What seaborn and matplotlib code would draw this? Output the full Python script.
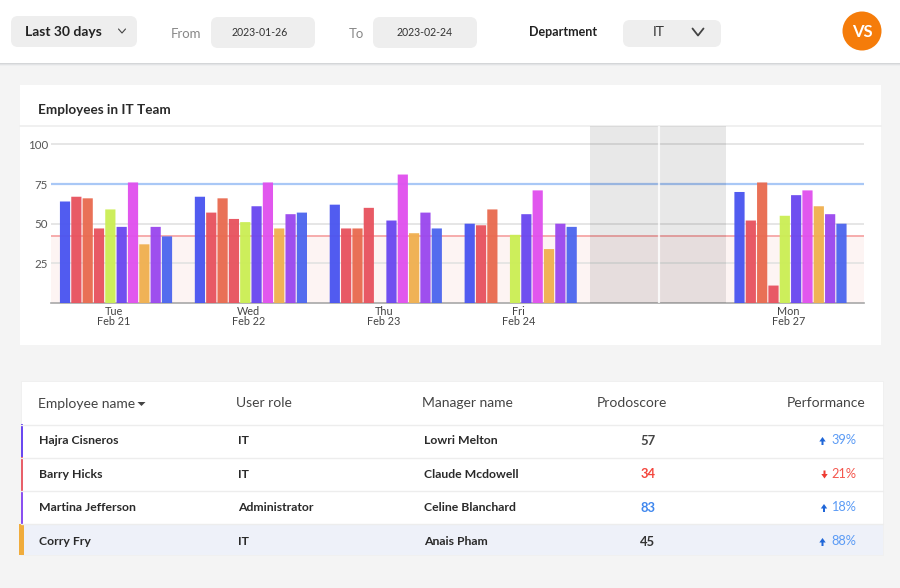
import numpy as np
import pandas as pd
import seaborn as sns
import matplotlib.pyplot as plt
from matplotlib.patches import FancyBboxPatch, Rectangle, Circle, Polygon


# ---- data ----
days = ["Tue", "Wed", "Thu", "Fri", " ", "Mon"]
tick_days = ["Tue\nFeb 21", "Wed\nFeb 22", "Thu\nFeb 23", "Fri\nFeb 24", "Mon\nFeb 27"]
tick_pos = [0, 1, 2, 3, 5]
employees = ["e1", "e2", "e3", "e4", "e5", "e6", "e7", "e8", "e9", "e10"]
bar_colors = ["#4A55F0", "#E8535F", "#E96B50", "#E8535F", "#CBEE55",
              "#6A48F0", "#E050EE", "#F0B050", "#9A48EE", "#4D66EE"]

tue = [64, 67, 66, 47, 59, 48, 76, 37, 48, 42]
wed = [67, 57, 66, 53, 51, 61, 76, 47, 56, 57]
thu = [62, 47, 47, 60, np.nan, 52, 81, 44, 57, 47]
fri = [50, 49, 59, np.nan, 43, 56, 71, 34, 50, 48]
off = [np.nan] * 10
mon = [70, 52, 76, 11, 55, 68, 71, 61, 56, 50]

y_ticks = [25, 50, 75, 100]
upper_line = 75
lower_line = 42

names = ["Hajra Cisneros", "Barry Hicks", "Martina Jefferson", "Corry Fry"]
roles = ["IT", "IT", "Administrator", "IT"]
managers = ["Lowri Melton", "Claude Mcdowell", "Celine Blanchard", "Anais Pham"]
scores = ["57", "34", "83", "45"]
perf = ["39%", "21%", "18%", "88%"]
perf_up = [True, False, True, True]

df = pd.DataFrame({
    "day": np.repeat(days, len(employees)),
    "employee": employees * len(days),
    "value": tue + wed + thu + fri + off + mon,
})

sns.set_theme(style="white")
plt.rcParams["font.family"] = ["Lato", "DejaVu Sans"]

fig = plt.figure(figsize=(9, 5.88), dpi=100, facecolor="#F4F4F4")

# ---- page furniture, in pixel coords ----
ui = fig.add_axes([0, 0, 1, 1], zorder=0)
ui.set_xlim(0, 900)
ui.set_ylim(588, 0)
ui.axis("off")


def pill(x, y, w, h, color="#EEEEEE", r=7):
    ui.add_patch(FancyBboxPatch((x + r, y + r), w - 2 * r, h - 2 * r,
                                boxstyle=f"round,pad={r}", fc=color, ec="none"))


def chevron(x, y, w, h, lw=1.1, color="#444444"):
    ui.plot([x - w, x, x + w], [y - h, y + h, y - h], color=color, lw=lw)


def label(x, y, s, size=9, color="#333333", ha="left", weight="normal", **kw):
    ui.text(x, y, s, fontsize=size, color=color, ha=ha, va="center", weight=weight, **kw)


def arrow(x, y, up, color):
    # small solid arrow next to the performance figure
    d = -1 if up else 1
    pts = [[x - 3.2, y - 0.5 * d], [x, y + 4 * d], [x + 3.2, y - 0.5 * d],
           [x + 1, y - 0.5 * d], [x + 1, y - 4 * d], [x - 1, y - 4 * d], [x - 1, y - 0.5 * d]]
    ui.add_patch(Polygon(pts, fc=color, ec="none"))


# top bar and its shadow
ui.add_patch(Rectangle((0, 0), 900, 63, fc="white", ec="none"))
for i, c in enumerate(["#D4D6D8", "#E2E3E5", "#EDEEEF"]):
    ui.add_patch(Rectangle((0, 63 + i), 900, 1, fc=c, ec="none"))

pill(11, 16, 126, 31)
label(25, 32.5, "Last 30 days", 10, "#222222", weight="bold")
chevron(122, 31, 3.5, 2, lw=0.8)
label(171, 33.5, "From", 9.5, "#888888")
pill(211, 17, 104, 31)
label(260, 32.5, "2023-01-26", 7.6, "#333333", ha="center")
label(349, 33.5, "To", 9.5, "#888888")
pill(373, 17, 104, 31)
label(425, 32.5, "2023-02-24", 7.6, "#333333", ha="center")
label(529, 32.5, "Department", 9, "#222222", weight="bold")
pill(623, 20, 98, 27)
label(659, 32.5, "IT", 10, "#333333", ha="center")
chevron(698, 32, 5.5, 3.5, lw=1.3)
ui.add_patch(Circle((862, 31), 19.5, fc="#F57C0A", ec="none"))
label(862, 32, "VS", 12, "white", ha="center", weight="bold")

# chart card
ui.add_patch(Rectangle((20, 85), 861, 260, fc="white", ec="none"))
label(38, 109.5, "Employees in IT Team", 9.7, "#2A2A2A", weight="bold")
ui.plot([20, 881], [125.5, 125.5], color="#EDEDED", lw=1.2)

# table card
ui.add_patch(Rectangle((21, 381), 862, 174, fc="white", ec="#EFEFEF", lw=0.6))
ui.add_patch(Rectangle((24, 524), 859, 31, fc="#EEF1F9", ec="none"))
for y in [424.5, 457.5, 491, 524]:
    ui.plot([21, 883], [y, y], color="#EDEDED", lw=1)

stripes = [(424, 33, "#6A48F0", 2), (457, 34, "#E8606A", 2),
           (491, 33, "#8A50F0", 2), (524, 31, "#F0AC3C", 5)]
for y, h, c, w in stripes:
    ui.add_patch(Rectangle((19 if w == 5 else 20.5, y), w, h, fc=c, ec="none"))

label(38, 404, "Employee name", 10, "#444444")
ui.add_patch(Polygon([[137.5, 402], [145.5, 402], [141.5, 406]], fc="#444444", ec="none"))
label(236, 403, "User role", 10, "#444444")
label(422, 403, "Manager name", 10, "#444444")
label(597, 403, "Prodoscore", 10, "#444444")
label(866, 403, "Performance", 10, "#444444", ha="right")

row_y = [440.5, 474, 507.5, 541.5]
score_colors = ["#444444", "#F4453C", "#3F87EE", "#333333"]
arrow_x = [822.5, 824.5, 824, 822.5]
for i, y in enumerate(row_y):
    label(39, y, names[i], 8.8, "#2A2A2A", weight="bold")
    label(238, y, roles[i], 8.8, "#2A2A2A", weight="bold")
    label(424, y, managers[i], 8.8, "#2A2A2A", weight="bold")
    label(648, y + 0.5, scores[i], 9.4, score_colors[i], ha="center", weight="bold")
    col = "#5B9BF5" if perf_up[i] else "#F4574E"
    label(856, y - 0.5, perf[i], 9.2, col, ha="right")
    arrow(arrow_x[i], y + 0.5, perf_up[i], "#1F66D8" if perf_up[i] else "#EE3B33")

# ---- chart ----
ax = fig.add_axes([51 / 900, 1 - 303 / 588, (864 - 51) / 900, (303 - 126) / 588], zorder=1)
ax.patch.set_alpha(0)

ax.axhspan(0, lower_line, color="#FDF4F3", lw=0, zorder=0)
for t in y_ticks:
    ax.axhline(t, color="#E2E2E2", lw=1.2, zorder=1)

sns.barplot(data=df, x="day", y="value", hue="employee", order=days, hue_order=employees,
            palette=bar_colors, width=0.84, gap=0.1, errorbar=None, legend=False,
            alpha=0.96, saturation=1, linewidth=0, ax=ax, zorder=3)

# no pixel snapping, so every bar keeps the same width and gap
for bar in ax.patches:
    bar.set_snap(False)

ax.axhline(upper_line, color="#A9C8F6", lw=1.6, zorder=2)
ax.axhline(lower_line, color="#F6A6A6", lw=1.3, zorder=2)

# weekend band
ax.axvspan(3.514, 4.522, color="black", alpha=0.09, lw=0, zorder=4)
ax.axvline(4.025, color="white", lw=1.6, alpha=0.8, zorder=5)

ax.set_xlim(-0.482, 5.545)
ax.set_ylim(0, 111.6)
ax.set_yticks(y_ticks)
ax.set_xticks([p - 0.015 for p in tick_pos])
ax.set_xticklabels(tick_days, linespacing=0.85)
ax.tick_params(axis="x", length=0, pad=2.5, labelsize=7.8, labelcolor="#444444")
ax.tick_params(axis="y", length=0, pad=2, labelsize=8.3, labelcolor="#555555")
ax.set_xlabel("")
ax.set_ylabel("")
sns.despine(ax=ax, left=True, top=True, right=True)
ax.spines["bottom"].set_color("#A8A8A8")
ax.spines["bottom"].set_linewidth(1.2)

fig.savefig("out.png", dpi=100, facecolor=fig.get_facecolor())
